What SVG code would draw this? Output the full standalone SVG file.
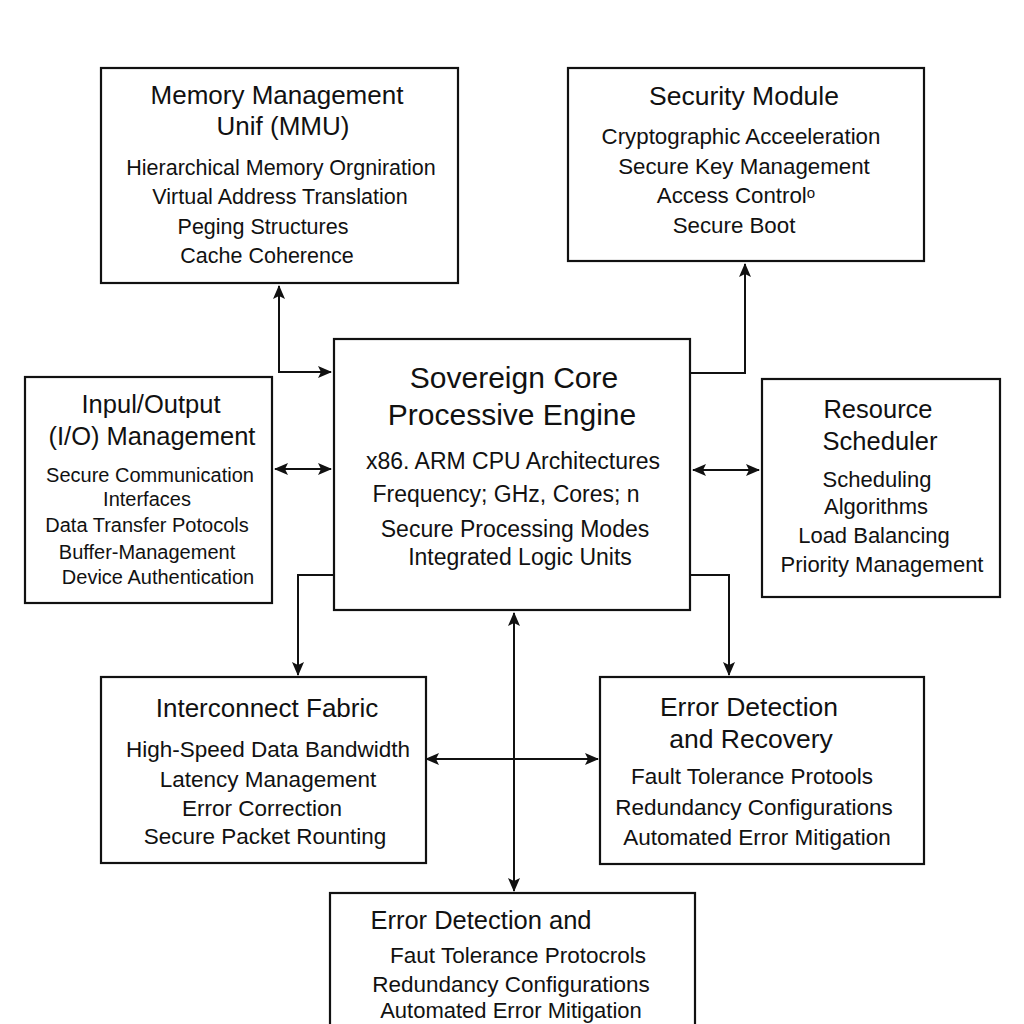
<svg xmlns="http://www.w3.org/2000/svg" width="1024" height="1024" viewBox="0 0 1024 1024">
<style>
text{font-family:"Liberation Sans",Arial,"Noto Sans",sans-serif;fill:#111;text-anchor:middle}
.box{fill:#fff;stroke:#111;stroke-width:2.2}
.con{fill:none;stroke:#111;stroke-width:2}
</style>
<defs>
<marker id="ah" markerUnits="userSpaceOnUse" markerWidth="14" markerHeight="12" refX="13" refY="6" orient="auto-start-reverse" viewBox="0 0 14 12">
<path d="M0,0 L14,6 L0,12 L3,6 z" fill="#111"/>
</marker>
</defs>
<rect width="1024" height="1024" fill="#fff"/>
<g id="connectors">
<path class="con" d="M279,286 V372 H331" marker-start="url(#ah)" marker-end="url(#ah)"/>
<path class="con" d="M690,373 H745 V264" marker-end="url(#ah)"/>
<path class="con" d="M275,469 H331" marker-start="url(#ah)" marker-end="url(#ah)"/>
<path class="con" d="M693,470 H759" marker-start="url(#ah)" marker-end="url(#ah)"/>
<path class="con" d="M334,575 H298 V675" marker-end="url(#ah)"/>
<path class="con" d="M690,575 H729 V675" marker-end="url(#ah)"/>
<path class="con" d="M514,613 V891" marker-start="url(#ah)" marker-end="url(#ah)"/>
<path class="con" d="M426,759 H598" marker-start="url(#ah)" marker-end="url(#ah)"/>
</g>
<g id="mmu">
<rect class="box" x="101" y="68" width="357" height="215"/>
<text x="277" y="104" font-size="26">Memory Management</text>
<text x="283" y="135" font-size="26">Unif (MMU)</text>
<text x="281" y="175" font-size="21.5">Hierarchical Memory Orgniration</text>
<text x="280" y="204" font-size="21.5">Virtual Address Translation</text>
<text x="263" y="234" font-size="21.5">Peging Structures</text>
<text x="267" y="263" font-size="21.5">Cache Coherence</text>
</g>
<g id="security">
<rect class="box" x="568" y="68" width="356" height="193"/>
<text x="744" y="105" font-size="26.5">Security Module</text>
<text x="741" y="144" font-size="22.3">Cryptographic Acceeleration</text>
<text x="744" y="174" font-size="22.3">Secure Key Management</text>
<text x="736" y="203" font-size="22.3">Access Control<tspan font-size="15" dy="-5">o</tspan></text>
<text x="734" y="233" font-size="22.3">Secure Boot</text>
</g>
<g id="core">
<rect class="box" x="334" y="339" width="356" height="271"/>
<text x="514" y="388" font-size="30">Sovereign Core</text>
<text x="512" y="425" font-size="30">Processive Engine</text>
<text x="513" y="469" font-size="23">x86. ARM CPU Architectures</text>
<text x="506" y="502" font-size="23">Frequency; GHz, Cores; n</text>
<text x="515" y="537" font-size="23">Secure Processing Modes</text>
<text x="520" y="565" font-size="23">Integrated Logic Units</text>
</g>
<g id="io">
<rect class="box" x="25" y="377" width="247" height="226"/>
<text x="151" y="413" font-size="25.5">Inpul/Output</text>
<text x="152" y="445" font-size="25.5">(I/O) Management</text>
<text x="150" y="482" font-size="20">Secure Communication</text>
<text x="147" y="506" font-size="20">Interfaces</text>
<text x="147" y="532" font-size="20">Data Transfer Potocols</text>
<text x="147" y="559" font-size="20">Buffer-Management</text>
<text x="158" y="584" font-size="20">Device Authentication</text>
</g>
<g id="scheduler">
<rect class="box" x="762" y="379" width="238" height="218"/>
<text x="878" y="418" font-size="25.5">Resource</text>
<text x="880" y="450" font-size="25.5">Scheduler</text>
<text x="877" y="487" font-size="22">Scheduling</text>
<text x="876" y="514" font-size="22">Algorithms</text>
<text x="874" y="543" font-size="22">Load Balancing</text>
<text x="882" y="572" font-size="22">Priority Management</text>
</g>
<g id="interconnect">
<rect class="box" x="101" y="677" width="325" height="186"/>
<text x="267" y="717" font-size="26">Interconnect Fabric</text>
<text x="268" y="757" font-size="22.5">High-Speed Data Bandwidth</text>
<text x="268" y="787" font-size="22.5">Latency Management</text>
<text x="262" y="816" font-size="22.5">Error Correction</text>
<text x="265" y="844" font-size="22.5">Secure Packet Rounting</text>
</g>
<g id="recovery">
<rect class="box" x="600" y="677" width="324" height="187"/>
<text x="749" y="716" font-size="26.5">Error Detection</text>
<text x="751" y="748" font-size="26.5">and Recovery</text>
<text x="752" y="784" font-size="22.5">Fault Tolerance Protools</text>
<text x="754" y="815" font-size="22.5">Redundancy Configurations</text>
<text x="757" y="845" font-size="22.5">Automated Error Mitigation</text>
</g>
<g id="detection">
<rect class="box" x="330" y="893" width="365" height="150"/>
<text x="481" y="929" font-size="25.5">Error Detection and</text>
<text x="518" y="963" font-size="22.5">Faut Tolerance Protocrols</text>
<text x="511" y="992" font-size="22.5">Redundancy Configurations</text>
<text x="511" y="1018" font-size="22">Automated Error Mitigation</text>
</g>
</svg>
